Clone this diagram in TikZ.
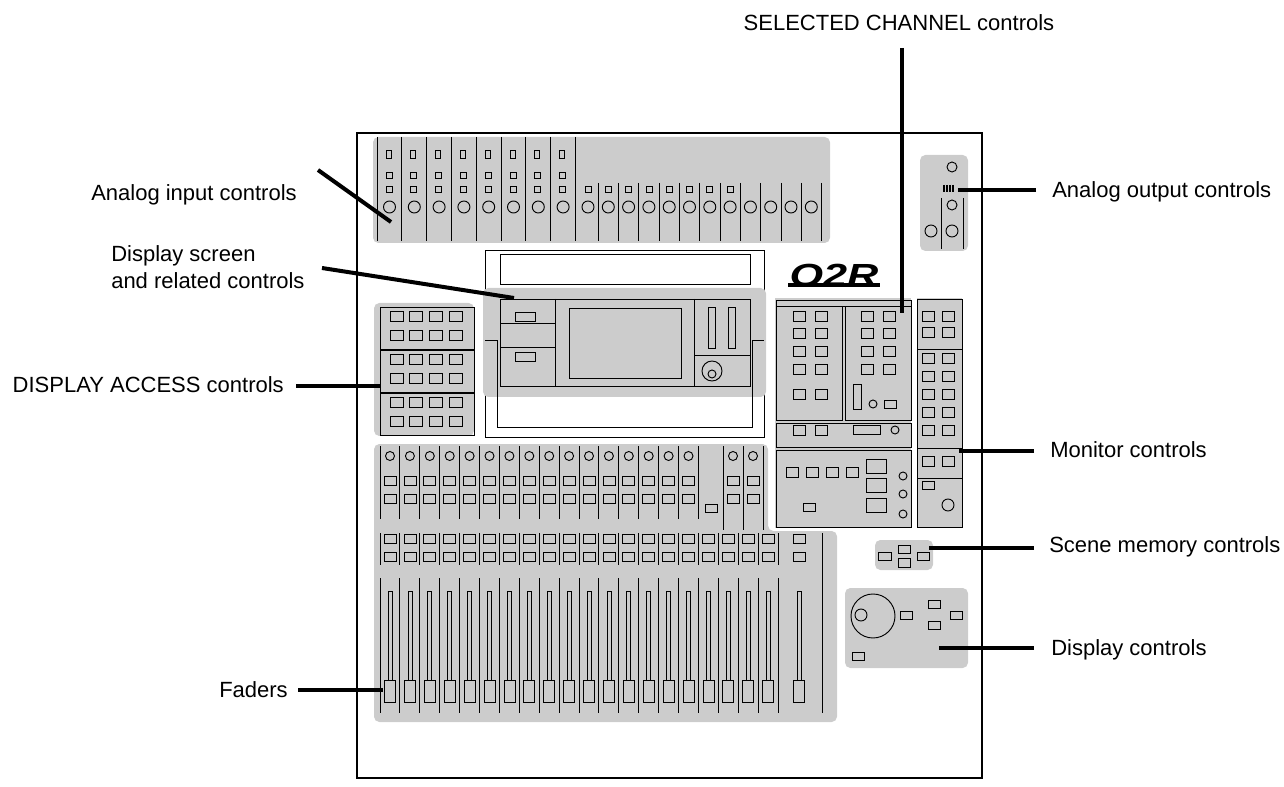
\documentclass[tikz,border=0pt]{standalone}
\usepackage{fontspec}
\setmainfont{Liberation Sans}
\begin{document}
\begin{tikzpicture}[x=0.75pt, y=-0.75pt,
  panelStyle/.style={fill=panelgray, rounded corners=4pt},
  btnStyle/.style={draw, line width=0.6pt},
  lineStyle/.style={line width=0.7pt},
  leadStyle/.style={line width=3pt},
  labelStyle/.style={font=\fontsize{16.5}{20}\selectfont, inner sep=0pt}]
\definecolor{panelgray}{HTML}{CCCCCC}
\useasboundingbox (0,0) rectangle (1284,787);

% console outline
\draw[line width=1.5pt] (357,133) rectangle (982,778);

% analog inputs
\fill[panelStyle] (373,137) rectangle (830,243);
\foreach \i in {0,...,8} \draw[lineStyle] (377+24.8*\i,137) -- (377+24.8*\i,241);
\foreach \i in {0,...,7} {
  \draw[btnStyle] (386+24.8*\i,150) rectangle (391+24.8*\i,158);
  \draw[btnStyle] (386+24.8*\i,172) rectangle (392+24.8*\i,178);
  \draw[btnStyle] (386+24.8*\i,186) rectangle (392+24.8*\i,192);
  \draw[lineStyle] (389.5+24.8*\i,207) circle (6);
}
\foreach \i in {1,...,12} \draw[lineStyle] (578+20.3*\i,183) -- (578+20.3*\i,241);
\foreach \i in {0,...,11} \draw[lineStyle] (588+20.3*\i,207) circle (6);
\foreach \i in {0,...,7} \draw[btnStyle] (585+20.3*\i,186) rectangle (591+20.3*\i,192);

% display unit
\draw[lineStyle] (485,250) rectangle (764,437);
\draw[lineStyle] (500,254) rectangle (750,284);
\fill[panelStyle] (483,288) rectangle (766,397);
\draw[lineStyle] (485,340) -- (497,340) -- (497,427) -- (752,427) -- (752,340) -- (764,340);
\draw[lineStyle] (500,299) rectangle (750,386);
\draw[lineStyle] (555,299) -- (555,386) (694,299) -- (694,386);
\draw[lineStyle] (500,323) -- (555,323) (500,347) -- (555,347) (694,355) -- (750,355);
\draw[btnStyle] (515,312) rectangle (535,321);
\draw[btnStyle] (515,352) rectangle (535,361);
\draw[lineStyle] (569,308) rectangle (681,378);
\draw[lineStyle] (708,307) rectangle (715,348) (728,307) rectangle (735,348);
\draw[lineStyle] (712,371) circle (10) (712,374) circle (4);

% logo
\node[font=\bfseries\itshape\fontsize{24}{24}\selectfont, inner sep=0pt, xscale=1.35] (logo) at (834,275) {O2R};
\draw[line width=2.5pt] (788,285) -- (880,285);

% display access
\fill[panelStyle] (374,303) rectangle (474,436);
\foreach \s in {307,350,393} {
  \draw[lineStyle] (380,\s) rectangle (474,\s+42);
  \foreach \x in {397,416,436,456} {
    \draw[btnStyle] (\x-6.5,\s+4) rectangle (\x+6.5,\s+14);
    \draw[btnStyle] (\x-6.5,\s+23) rectangle (\x+6.5,\s+33);
  }
}

% selected channel
\fill[panelgray] (775,298) rectangle (911,528);
\draw[lineStyle] (776,300) rectangle (911,306);
\draw[lineStyle] (776,306) rectangle (842,420) (845,306) rectangle (911,420);
\draw[lineStyle] (776,423) rectangle (911,447) (776,450) rectangle (911,527);
\foreach \y in {316,333,351,369,394} \foreach \x in {799,821}
  \draw[btnStyle] (\x-6,\y-5) rectangle (\x+6,\y+5);
\foreach \y in {316,333,351,369} \foreach \x in {867,889}
  \draw[btnStyle] (\x-6,\y-5) rectangle (\x+6,\y+5);
\draw[lineStyle] (853,384) rectangle (861,409);
\draw[lineStyle] (873,404) circle (4);
\draw[btnStyle] (890-6,404-4) rectangle (890+6,404+4);
\foreach \x in {799,821} \draw[btnStyle] (\x-6,425) rectangle (\x+6,435);
\draw[btnStyle] (853,425) rectangle (880,434);
\draw[lineStyle] (895,430) circle (4);
\foreach \x in {792,812,832,852} \draw[btnStyle] (\x-6,467) rectangle (\x+6,477);
\draw[btnStyle] (803,503) rectangle (815,511);
\foreach \y in {459,478,498} \draw[btnStyle] (866,\y) rectangle (886,\y+14);
\foreach \y in {476,494,514} \draw[lineStyle] (903,\y) circle (4);

% monitor
\fill[panelgray] (917,298) rectangle (962,528);
\draw[lineStyle] (917,299) rectangle (962,527);
\draw[lineStyle] (917,349) -- (962,349) (917,448) -- (962,448) (917,478) -- (962,478);
\foreach \y in {316,332,358,376,394,412,430,461} \foreach \x in {928,948}
  \draw[btnStyle] (\x-6,\y-5) rectangle (\x+6,\y+5);
\draw[btnStyle] (922,481) rectangle (934,489);
\draw[lineStyle] (948,505) circle (6);

% analog outputs
\fill[panelStyle] (920,155) rectangle (968,251);
\draw[lineStyle] (952,167) circle (5) (952,205) circle (5) (931,231) circle (6) (952,231) circle (6);
\draw[lineStyle] (941,198) -- (941,249) (963,198) -- (963,249);
\foreach \x in {944,947,950,953} \draw[line width=1.2pt] (\x,185) -- (\x,192);

% channel strips and faders
\fill[panelgray, rounded corners=4pt] (374,444) -- (768,444) -- (768,531) -- (837,531) -- (837,722) -- (374,722) -- cycle;
\foreach \i in {0,...,16} \draw[lineStyle] (380+19.9*\i,446) -- (380+19.9*\i,519);
\foreach \i in {0,...,15} {
  \draw[lineStyle] (390+19.9*\i,456) circle (4.5);
  \draw[btnStyle] (384+19.9*\i,476) rectangle (396+19.9*\i,485);
  \draw[btnStyle] (384+19.9*\i,494) rectangle (396+19.9*\i,503);
}
\draw[btnStyle] (705,504) rectangle (717,512);
\foreach \x in {723,743,763} \draw[lineStyle] (\x,446) -- (\x,530);
\foreach \x in {733,753} {
  \draw[lineStyle] (\x,456) circle (4.5);
  \draw[btnStyle] (\x-6,476) rectangle (\x+6,485);
  \draw[btnStyle] (\x-6,494) rectangle (\x+6,503);
}
\foreach \i in {0,...,20} \draw[lineStyle] (380+19.9*\i,533) -- (380+19.9*\i,565) (380+19.9*\i,578) -- (380+19.9*\i,713);
\draw[lineStyle] (822,533) -- (822,713);
\foreach \x in {390,409.9,...,770,799} {
  \draw[btnStyle] (\x-6,534) rectangle (\x+6,543);
  \draw[btnStyle] (\x-6,552) rectangle (\x+6,561);
  \draw[line width=0.5pt] (\x-2,591) rectangle (\x+2,680);
  \draw[btnStyle, fill=panelgray] (\x-5.5,680) rectangle (\x+5.5,702);
}

% scene memory
\fill[panelStyle] (875,540) rectangle (933,570);
\draw[btnStyle] (878,552) rectangle (891,560) (898,545) rectangle (910,553)
  (898,558) rectangle (910,567) (917,552) rectangle (929,560);

% display controls
\fill[panelStyle] (845,588) rectangle (968,668);
\draw[lineStyle] (873,616) circle (22) (861,615) circle (6);
\draw[btnStyle] (906-6,611) rectangle (906+6,619) (934-6,600) rectangle (934+6,608)
  (934-6,621) rectangle (934+6,629) (956-6,611) rectangle (956+6,619) (852,652) rectangle (864,660);

% labels
\node[labelStyle] (selLabel) at (899,23) {SELECTED CHANNEL controls};
\node[labelStyle, anchor=east] (inLabel) at (297,195) {Analog input controls};
\node[labelStyle, anchor=west, align=left] (dispLabel) at (111,267) {Display screen\\and related controls};
\node[labelStyle, anchor=east] (accLabel) at (284,385) {DISPLAY ACCESS controls};
\node[labelStyle, anchor=east] (fadLabel) at (288,690) {Faders};
\node[labelStyle, anchor=west] (outLabel) at (1052,192) {Analog output controls};
\node[labelStyle, anchor=west] (monLabel) at (1050,450) {Monitor controls};
\node[labelStyle, anchor=west] (sceLabel) at (1049,547) {Scene memory controls};
\node[labelStyle, anchor=west] (dcLabel) at (1051,650) {Display controls};

\coordinate (selEnd) at (902,313);
\coordinate (inEnd) at (391,222);
\coordinate (dispEnd) at (514,298);
\coordinate (accEnd) at (381,386);
\coordinate (fadEnd) at (383,690);
\coordinate (outEnd) at (958,190);
\coordinate (monEnd) at (959,451);
\coordinate (sceEnd) at (929,548);
\coordinate (dcEnd) at (939,648);

\draw[leadStyle] (902,48) -- (selEnd);
\draw[leadStyle] (318,170) -- (inEnd);
\draw[leadStyle] (322,268) -- (dispEnd);
\draw[leadStyle] (296,386) -- (accEnd);
\draw[leadStyle] (298,690) -- (fadEnd);
\draw[leadStyle] (1036,190) -- (outEnd);
\draw[leadStyle] (1034,451) -- (monEnd);
\draw[leadStyle] (1034,548) -- (sceEnd);
\draw[leadStyle] (1034,648) -- (dcEnd);
\end{tikzpicture}
\end{document}
